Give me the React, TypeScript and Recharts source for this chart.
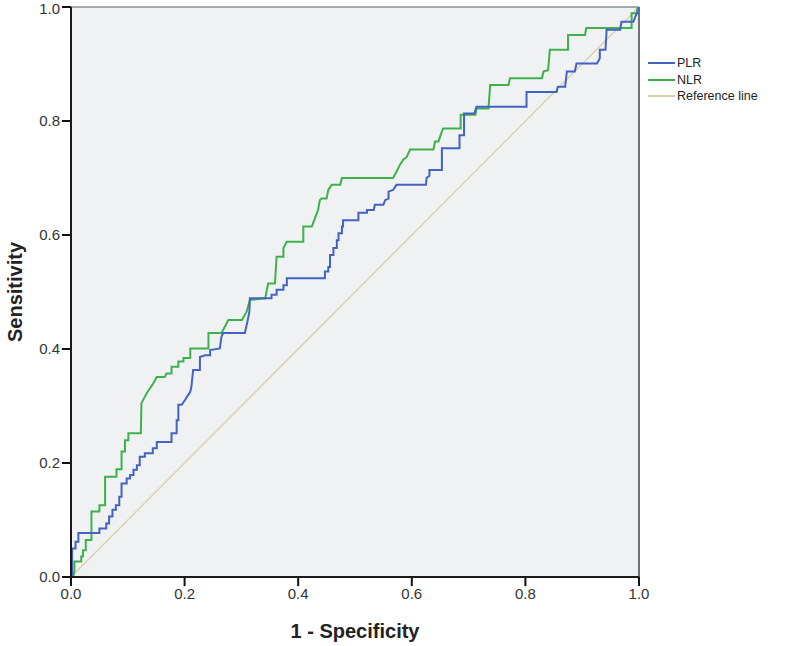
import { CartesianGrid, Label, Legend, Line, LineChart, ReferenceLine, XAxis, YAxis } from "recharts"

// ROC vertices: [1 - specificity, sensitivity]
const plrRoc: [number, number][] = [
  [0, 0], [0.002, 0], [0.002, 0.05], [0.008, 0.05], [0.008, 0.062], [0.013, 0.062], [0.013, 0.077],
  [0.05, 0.077], [0.05, 0.085], [0.062, 0.085], [0.062, 0.094], [0.067, 0.094], [0.067, 0.106],
  [0.073, 0.106], [0.073, 0.118], [0.079, 0.118], [0.079, 0.126], [0.085, 0.126], [0.085, 0.141],
  [0.089, 0.141], [0.089, 0.164], [0.098, 0.164], [0.098, 0.173], [0.104, 0.173], [0.104, 0.179],
  [0.11, 0.179], [0.11, 0.188], [0.116, 0.188], [0.116, 0.196], [0.121, 0.196], [0.121, 0.211],
  [0.13, 0.211], [0.13, 0.217], [0.144, 0.217], [0.144, 0.226], [0.151, 0.226], [0.151, 0.237],
  [0.177, 0.237], [0.177, 0.252], [0.186, 0.252], [0.186, 0.275], [0.189, 0.275], [0.189, 0.302],
  [0.195, 0.302], [0.201, 0.311], [0.204, 0.316], [0.21, 0.325], [0.212, 0.334], [0.215, 0.363],
  [0.227, 0.363], [0.227, 0.386], [0.236, 0.389], [0.245, 0.389], [0.245, 0.398], [0.262, 0.401],
  [0.265, 0.422], [0.268, 0.428], [0.306, 0.428], [0.31, 0.445], [0.314, 0.465], [0.315, 0.489],
  [0.353, 0.489], [0.353, 0.495], [0.362, 0.495], [0.362, 0.504], [0.374, 0.504], [0.374, 0.512],
  [0.38, 0.512], [0.38, 0.524], [0.447, 0.524], [0.447, 0.536], [0.453, 0.536], [0.453, 0.544],
  [0.456, 0.544], [0.456, 0.565], [0.462, 0.565], [0.462, 0.577], [0.468, 0.577], [0.468, 0.591],
  [0.471, 0.591], [0.471, 0.603], [0.477, 0.603], [0.477, 0.615], [0.479, 0.615], [0.479, 0.626],
  [0.506, 0.626], [0.506, 0.639], [0.521, 0.639], [0.521, 0.644], [0.533, 0.644], [0.535, 0.653],
  [0.55, 0.653], [0.553, 0.661], [0.559, 0.664], [0.559, 0.676], [0.567, 0.679], [0.573, 0.688],
  [0.625, 0.688], [0.626, 0.7], [0.631, 0.704], [0.631, 0.714], [0.653, 0.714], [0.653, 0.752],
  [0.684, 0.752], [0.684, 0.775], [0.692, 0.775], [0.692, 0.813], [0.71, 0.813], [0.714, 0.825],
  [0.802, 0.825], [0.802, 0.851], [0.855, 0.851], [0.857, 0.86], [0.87, 0.86], [0.873, 0.887],
  [0.887, 0.887], [0.89, 0.901], [0.926, 0.901], [0.931, 0.91], [0.931, 0.925], [0.941, 0.925],
  [0.943, 0.96], [0.967, 0.96], [0.969, 0.974], [0.99, 0.974], [0.996, 0.989], [1, 0.989], [1, 1],
]

const nlrRoc: [number, number][] = [
  [0, 0], [0.004, 0], [0.006, 0.012], [0.006, 0.027], [0.018, 0.027], [0.018, 0.036], [0.021, 0.036],
  [0.021, 0.047], [0.026, 0.047], [0.026, 0.065], [0.036, 0.065], [0.036, 0.115], [0.05, 0.115],
  [0.05, 0.126], [0.06, 0.126], [0.06, 0.176], [0.08, 0.176], [0.08, 0.189], [0.089, 0.189],
  [0.089, 0.22], [0.095, 0.22], [0.095, 0.24], [0.101, 0.24], [0.101, 0.252], [0.123, 0.252],
  [0.124, 0.305], [0.133, 0.322], [0.145, 0.34], [0.151, 0.351], [0.165, 0.351], [0.168, 0.357],
  [0.177, 0.357], [0.177, 0.369], [0.189, 0.369], [0.189, 0.378], [0.198, 0.378], [0.198, 0.384],
  [0.21, 0.384], [0.21, 0.401], [0.242, 0.401], [0.242, 0.428], [0.265, 0.428], [0.277, 0.451],
  [0.301, 0.451], [0.309, 0.465], [0.315, 0.486], [0.342, 0.489], [0.347, 0.515], [0.359, 0.515],
  [0.362, 0.562], [0.374, 0.562], [0.374, 0.577], [0.38, 0.588], [0.409, 0.588], [0.409, 0.615],
  [0.424, 0.615], [0.435, 0.644], [0.438, 0.661], [0.441, 0.664], [0.45, 0.664], [0.453, 0.679],
  [0.459, 0.688], [0.474, 0.688], [0.477, 0.7], [0.567, 0.7], [0.573, 0.711], [0.579, 0.723],
  [0.585, 0.732], [0.591, 0.737], [0.597, 0.75], [0.638, 0.75], [0.641, 0.764], [0.647, 0.764],
  [0.65, 0.773], [0.655, 0.787], [0.686, 0.787], [0.686, 0.811], [0.712, 0.811], [0.714, 0.822],
  [0.735, 0.822], [0.738, 0.863], [0.77, 0.863], [0.773, 0.875], [0.829, 0.875], [0.832, 0.887],
  [0.84, 0.889], [0.843, 0.925], [0.875, 0.925], [0.875, 0.951], [0.905, 0.951], [0.907, 0.963],
  [0.987, 0.963], [0.987, 0.989], [0.996, 0.989], [0.997, 0.997], [1, 1],
]

const diagonal: [number, number][] = [[0, 0], [1, 1]]

const ticks = [0, 0.2, 0.4, 0.6, 0.8, 1.0]

const series = [
  { name: "PLR", color: "#4263c2", points: plrRoc },
  { name: "NLR", color: "#3db24c", points: nlrRoc },
  { name: "Reference line", color: "#d8d4aa", points: diagonal },
]

const toRows = (pts: [number, number][]) => pts.map(([x, y]) => ({ x, y }))

const font = "'Liberation Sans', Arial, sans-serif"
const tickLen = 0.016 // tick mark length in axis units (~9px)

function LegendBox() {
  return (
    <div style={{ fontFamily: font, fontSize: 12.5, color: "#222" }}>
      {series.map((s) => (
        <div key={s.name} style={{ display: "flex", alignItems: "center", height: 16.5 }}>
          <span style={{ display: "inline-block", width: 27, height: 2, background: s.color, marginRight: 2 }} />
          <span>{s.name}</span>
        </div>
      ))}
    </div>
  )
}

export default function App() {
  return (
    <div style={{ position: "absolute", left: 0, top: 0, width: 800, height: 646, background: "#fff" }}>
      <LineChart width={800} height={646} margin={{ top: 7, right: 161, bottom: 3, left: 0 }}>
        <CartesianGrid fill="#f0f1f3" horizontal={false} vertical={false} />
        <XAxis
          type="number"
          dataKey="x"
          domain={[0, 1]}
          allowDataOverflow
          ticks={ticks}
          tickFormatter={(v: number) => v.toFixed(1)}
          height={66}
          axisLine={{ stroke: "#1a1a1a", strokeWidth: 2 }}
          tickLine={false}
          tickSize={9}
          tickMargin={2}
          tick={{ fill: "#333", fontSize: 15, fontFamily: font }}
        >
          <Label value="1 - Specificity" position="insideBottom" offset={5}
            style={{ fontSize: 20, fontWeight: "bold", fill: "#222", fontFamily: font }} />
        </XAxis>
        <YAxis
          type="number"
          dataKey="y"
          domain={[0, 1]}
          allowDataOverflow
          ticks={ticks}
          tickFormatter={(v: number) => v.toFixed(1)}
          width={71}
          axisLine={{ stroke: "#1a1a1a", strokeWidth: 2 }}
          tickLine={false}
          tickSize={9}
          tickMargin={2}
          tick={{ fill: "#333", fontSize: 15, fontFamily: font }}
        >
          <Label
            content={({ viewBox }: any) => {
              const cx = viewBox.x + 15
              const cy = viewBox.y + viewBox.height / 2
              return (
                <text x={cx} y={cy} transform={`rotate(-90 ${cx} ${cy})`} textAnchor="middle" dominantBaseline="central"
                  style={{ fontSize: 20, fontWeight: "bold", fill: "#222", fontFamily: font }}>
                  Sensitivity
                </text>
              )
            }}
          />
        </YAxis>
        <ReferenceLine y={1} stroke="#8a8f93" strokeWidth={1.5} />
        <ReferenceLine x={1} stroke="#444" strokeWidth={1.5} />
        {ticks.map((t) => (
          <ReferenceLine key={`xt${t}`} segment={[{ x: t, y: 0 }, { x: t, y: -tickLen }]}
            ifOverflow="visible" stroke="#111" strokeWidth={2} />
        ))}
        {ticks.map((t) => (
          <ReferenceLine key={`yt${t}`} segment={[{ x: 0, y: t }, { x: -tickLen, y: t }]}
            ifOverflow="visible" stroke="#111" strokeWidth={2} />
        ))}
        {series.slice().reverse().map((s) => (
          <Line
            key={s.name}
            data={toRows(s.points)}
            dataKey="y"
            name={s.name}
            type="linear"
            stroke={s.color}
            strokeWidth={s.name === "Reference line" ? 1.5 : 2}
            dot={false}
            activeDot={false}
            isAnimationActive={false}
          />
        ))}
        <Legend
          layout="vertical"
          align="center"
          verticalAlign="middle"
          content={() => <LegendBox />}
          wrapperStyle={{ left: 648, top: 55, width: 140 }}
        />
      </LineChart>
    </div>
  )
}
